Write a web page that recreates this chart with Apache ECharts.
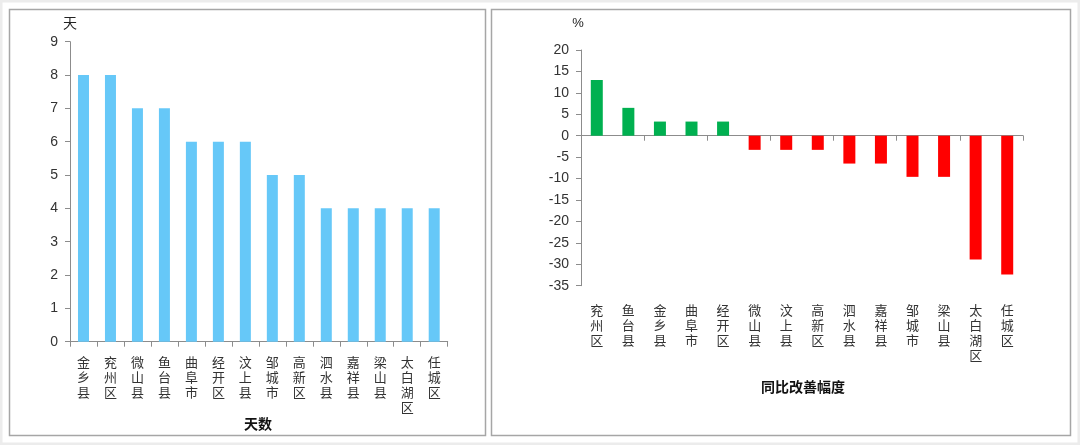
<!DOCTYPE html>
<html><head><meta charset="utf-8">
<script src="https://cdn.jsdelivr.net/npm/echarts@6/dist/echarts.min.js"></script>
<style>html,body{margin:0;padding:0;background:#fff;}#c{width:1080px;height:445px;}</style>
</head><body><div id="c"></div>
<script>
var daysCategories = ['金乡县','兖州区','微山县','鱼台县','曲阜市','经开区','汶上县','邹城市','高新区','泗水县','嘉祥县','梁山县','太白湖区','任城区'];
var daysValues = [8,8,7,7,6,6,6,5,5,4,4,4,4,4];
var rateCategories = ['兖州区','鱼台县','金乡县','曲阜市','经开区','微山县','汶上县','高新区','泗水县','嘉祥县','邹城市','梁山县','太白湖区','任城区'];
var rateValues = [13.0,6.5,3.3,3.3,3.3,-3.3,-3.3,-3.3,-6.5,-6.5,-9.6,-9.6,-28.9,-32.4];
var leftTitle = '天数', leftUnit = '天', rightTitle = '同比改善幅度', rightUnit = '%';

var FONT = '"Liberation Sans","Noto Sans CJK SC",sans-serif';
var CJK = '"Noto Sans CJK SC",sans-serif';
var axisGray = '#8c8c8c';
var textCol = '#333';
function vert(s){ return s.split('').join('\n'); }

var chart = echarts.init(document.getElementById('c'));
chart.setOption({
  animation:false,
  backgroundColor:'#fff',
  grid:[
    {left:70, top:41.7, width:377.7, height:300},
    {left:581, top:50, width:442, height:235.7}
  ],
  xAxis:[
    {gridIndex:0, type:'category', data:daysCategories,
     axisLine:{lineStyle:{color:axisGray}}, axisTick:{show:true, length:5, lineStyle:{color:axisGray}},
     axisLabel:{interval:0, margin:13, color:textCol, fontSize:13, lineHeight:15, fontFamily:CJK, formatter:vert}},
    {gridIndex:1, type:'category', data:rateCategories,
     axisLine:{onZero:true, lineStyle:{color:axisGray}}, axisTick:{show:true, length:5, lineStyle:{color:axisGray}},
     axisLabel:{show:false}},
    {gridIndex:1, type:'category', data:rateCategories, position:'bottom',
     axisLine:{show:false, onZero:false}, axisTick:{show:false},
     axisLabel:{interval:0, margin:17, color:textCol, fontSize:13, lineHeight:15, fontFamily:CJK, formatter:vert}}
  ],
  yAxis:[
    {gridIndex:0, type:'value', min:0, max:9, interval:1,
     name:leftUnit, nameLocation:'end', nameGap:12, nameTextStyle:{color:'#222', fontSize:14, fontFamily:CJK, align:'center'},
     axisLine:{show:true, lineStyle:{color:axisGray}}, axisTick:{show:true, length:5, lineStyle:{color:axisGray}},
     splitLine:{show:false}, axisLabel:{color:textCol, fontSize:14, margin:12, fontFamily:FONT}},
    {gridIndex:1, type:'value', min:-35, max:20, interval:5,
     name:rightUnit, nameLocation:'end', nameGap:20, nameTextStyle:{color:'#222', fontSize:13, fontFamily:FONT, align:'center', padding:[0,6,0,0]},
     axisLine:{show:true, lineStyle:{color:axisGray}}, axisTick:{show:true, length:5, lineStyle:{color:axisGray}},
     splitLine:{show:false}, axisLabel:{color:textCol, fontSize:14, margin:12, fontFamily:FONT}}
  ],
  series:[
    {type:'bar', xAxisIndex:0, yAxisIndex:0, data:daysValues, barWidth:11,
     itemStyle:{color:'#66C8F8'}},
    {type:'bar', xAxisIndex:1, yAxisIndex:1, barWidth:12,
     data:rateValues.map(function(v){return {value:v, itemStyle:{color: v>=0 ? '#00B050' : '#FF0000'}};})}
  ],
  graphic:[
    {type:'rect', shape:{x:1, y:1, width:1078, height:443}, style:{fill:'none', stroke:'#ececec', lineWidth:3}, silent:true},
    {type:'rect', shape:{x:9.5, y:9.5, width:476, height:426}, style:{fill:'none', stroke:'#a6a6a6', lineWidth:1.5}, silent:true},
    {type:'rect', shape:{x:491.5, y:9.5, width:579, height:426}, style:{fill:'none', stroke:'#a6a6a6', lineWidth:1.5}, silent:true},
    {type:'text', x:258, y:424, style:{text:leftTitle, fill:'#111', font:'bold 14px '+CJK, textAlign:'center', textVerticalAlign:'middle'}},
    {type:'text', x:803, y:387, style:{text:rightTitle, fill:'#111', font:'bold 14px '+CJK, textAlign:'center', textVerticalAlign:'middle'}}
  ]
});
</script></body></html>
